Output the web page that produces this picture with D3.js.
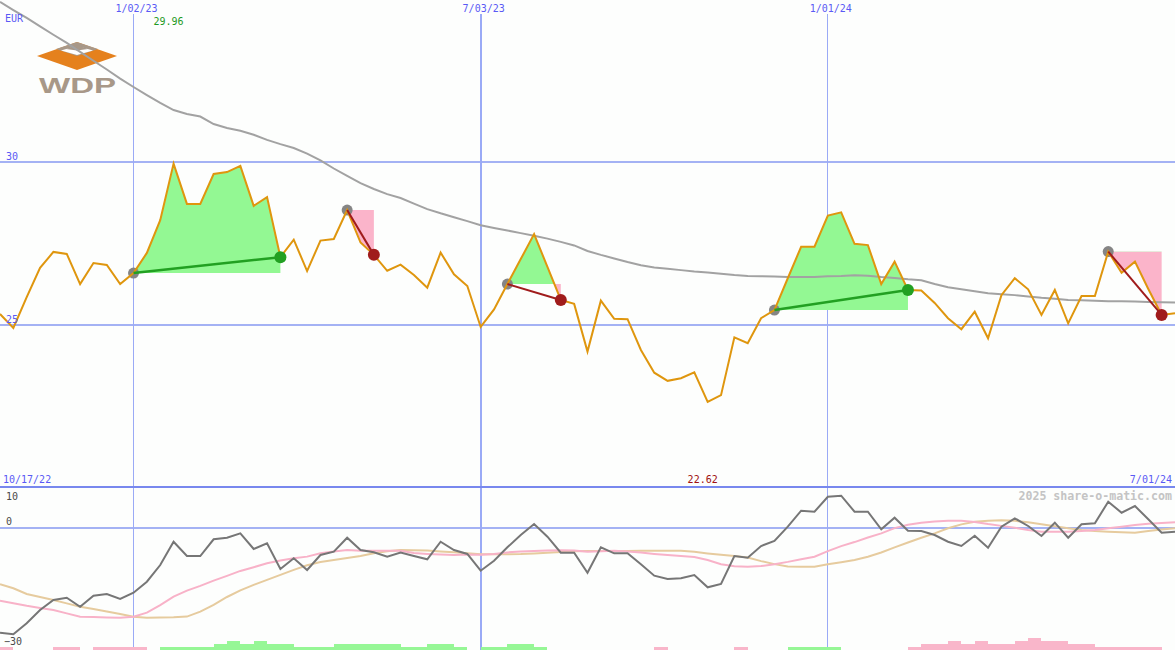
<!DOCTYPE html>
<html><head><meta charset="utf-8">
<script src="https://cdn.jsdelivr.net/npm/d3@7"></script>
<style>html,body{margin:0;padding:0;background:#fdfefd;} svg{display:block;}</style>
</head><body><svg id="c" width="1175" height="650"></svg>
<script>
// ---------- data (weekly, first point 2022-10-24) ----------
const startDate = "2022-10-24";
const close = [25.33,24.90,25.85,26.75,27.24,27.18,26.25,26.90,26.84,26.25,
  26.59,27.21,28.22,29.96,28.72,28.72,29.64,29.70,29.89,28.66,
  28.93,27.08,27.62,26.65,27.59,27.64,28.53,27.53,27.15,26.66,
  26.85,26.53,26.14,27.22,26.55,26.19,24.93,25.47,26.25,27.02,
  27.79,26.78,25.76,25.64,24.17,25.74,25.18,25.17,24.22,23.52,
  23.27,23.35,23.53,22.62,22.83,24.61,24.43,25.20,25.45,26.43,
  27.40,27.40,28.36,28.46,27.49,27.45,26.25,26.94,26.07,26.05,
  25.67,25.20,24.86,25.40,24.58,25.91,26.43,26.09,25.30,26.07,
  25.04,25.88,25.88,27.25,26.60,26.94,26.10,25.30,25.35];
const movingAvg = [34.94,34.69,34.45,34.19,33.93,33.68,33.40,33.13,32.86,32.58,
  32.32,32.07,31.83,31.61,31.49,31.41,31.18,31.06,30.97,30.85,
  30.69,30.56,30.44,30.27,30.06,29.81,29.58,29.36,29.18,29.02,
  28.90,28.73,28.56,28.43,28.31,28.19,28.06,27.98,27.90,27.82,
  27.74,27.65,27.55,27.44,27.27,27.15,27.04,26.93,26.83,26.76,
  26.72,26.68,26.64,26.61,26.57,26.53,26.50,26.49,26.48,26.47,
  26.47,26.47,26.49,26.50,26.52,26.51,26.47,26.44,26.40,26.37,
  26.25,26.15,26.09,26.03,25.97,25.94,25.91,25.87,25.83,25.80,
  25.76,25.75,25.74,25.72,25.72,25.71,25.70,25.69,25.68];
const momentum = [-25.98,-26.37,-23.65,-20.37,-17.90,-17.33,-19.56,-16.84,-16.42,-17.65,
  -16.10,-13.38,-9.26,-3.51,-7.04,-7.04,-2.91,-2.52,-1.43,-5.31,
  -3.90,-10.25,-7.60,-10.49,-6.79,-5.98,-2.52,-5.56,-6.12,-7.21,
  -6.17,-7.04,-7.85,-3.51,-5.56,-6.54,-10.67,-8.20,-4.89,-1.85,
  0.86,-2.27,-6.22,-6.22,-11.16,-4.89,-6.37,-6.37,-9.09,-11.90,
  -12.72,-12.54,-11.73,-14.77,-13.95,-7.04,-7.46,-4.57,-3.33,0.20,
  4.15,3.90,7.60,7.85,3.90,3.90,-0.44,2.42,-0.79,-0.86,
  -1.85,-3.51,-4.57,-2.02,-4.99,0.20,2.27,0.37,-2.10,1.19,
  -2.52,0.79,1.04,6.37,3.65,5.31,2.02,-1.28,-1.04];
const oscFast = [-18.07,-18.69,-19.31,-19.85,-20.37,-21.21,-22.02,-22.12,-22.20,-22.27,
  -22.02,-21.01,-19.14,-17.06,-15.58,-14.42,-13.11,-11.95,-10.72,-9.80,
  -8.81,-8.17,-7.58,-7.19,-6.35,-5.95,-5.56,-5.73,-5.73,-5.73,
  -5.75,-6.30,-6.52,-6.69,-6.79,-6.67,-6.72,-6.57,-6.15,-5.90,
  -5.78,-5.68,-5.60,-5.70,-5.98,-5.85,-5.75,-5.90,-6.20,-6.52,
  -6.79,-7.06,-7.28,-8.02,-9.06,-9.58,-9.68,-9.53,-9.06,-8.49,
  -7.83,-7.23,-5.83,-4.59,-3.60,-2.47,-1.46,-0.15,0.69,1.19,
  1.51,1.68,1.68,1.38,0.84,0.40,-0.07,-0.62,-1.04,-1.04,
  -1.04,-0.89,-0.62,-0.20,0.20,0.64,0.94,1.11,1.28];
const oscSlow = [-14.02,-15.01,-16.42,-17.16,-17.90,-18.74,-19.56,-20.10,-20.72,-21.36,
  -22.02,-22.27,-22.22,-22.17,-22.00,-20.77,-19.09,-17.16,-15.53,-14.17,
  -12.94,-11.70,-10.47,-9.33,-8.54,-8.00,-7.53,-7.04,-6.35,-5.88,
  -5.56,-5.63,-5.70,-5.90,-6.12,-6.37,-6.62,-6.62,-6.59,-6.57,
  -6.42,-6.22,-6.05,-5.88,-5.80,-5.80,-5.80,-5.78,-5.73,-5.73,
  -5.73,-5.75,-6.00,-6.40,-6.74,-7.06,-7.43,-8.30,-9.04,-9.65,
  -9.68,-9.68,-9.09,-8.57,-8.02,-7.21,-6.17,-4.91,-3.70,-2.54,
  -1.46,-0.20,0.77,1.43,1.68,1.78,1.65,1.28,0.79,0.30,
  -0.20,-0.59,-0.86,-1.04,-1.16,-1.28,-0.84,-0.47,-0.20];
const hist = [-1,0,0,0,-1,-1,0,-1,-1,-1,
  -1,0,1,1,1,1,2,3,2,3,
  2,2,1,1,1,2,2,2,2,2,
  1,1,2,2,1,0,1,1,2,2,
  1,0,0,0,0,0,0,0,0,-1,
  0,0,0,0,0,-1,0,0,0,1,
  1,1,1,0,0,0,0,0,-1,-2,
  -2,-3,-2,-3,-2,-2,-3,-4,-3,-3,
  -2,-2,-1,-1,-1,-1,-1,0,0];
// [start index, end index] of trade signals
const signals = [[10,21],[26,28],[38,42],[58,68],[83,87]];
const dateTicks = ["2023-01-02","2023-07-03","2024-01-01"];
const dateTickLabels = ["1/02/23","7/03/23","1/01/24"];
const priceTicks = [30,25];
const oscTicks = [10,0,-30];
const firstDateLabel = "10/17/22";
const lastDateLabel = "7/01/24";
const currencyLabel = "EUR";
const creditText = "2025 share-o-matic.com";

// ---------- setup ----------
const W = 1175, H = 650;
const parse = d3.utcParse("%Y-%m-%d");
const t0 = parse(startDate);
const weeks = close.map((_, i) => d3.utcDay.offset(t0, 7 * i));
const svg = d3.select("#c");
const mainBottom = 487;
const x = d3.scaleUtc().domain(d3.extent(weeks)).range([0, W]);
const y = d3.scaleLinear().domain([20, 35]).range([mainBottom, 0]);
const oy = d3.scaleLinear().domain([-30, 10]).range([649, 487]);
const hy = d3.scaleLinear().domain([0, 4]).range([0, 12.5]);
const mono = "DejaVu Sans Mono, monospace";
const gridC = "#a4b2f4";

svg.append("rect").attr("width", W).attr("height", H).attr("fill", "#fdfefd");

const defs = svg.append("defs");
defs.append("clipPath").attr("id", "mainClip").append("rect").attr("x", 0).attr("y", 0).attr("width", W).attr("height", mainBottom);
defs.append("clipPath").attr("id", "oscClip").append("rect").attr("x", 0).attr("y", mainBottom).attr("width", W).attr("height", H - mainBottom);

// ---------- grid ----------
const grid = svg.append("g");
grid.selectAll(".hg").data(priceTicks).join("line")
  .attr("x1", 0).attr("x2", W).attr("y1", d => Math.round(y(d))).attr("y2", d => Math.round(y(d)))
  .attr("stroke", gridC).attr("stroke-width", 2);
grid.append("line").attr("x1", 0).attr("x2", W).attr("y1", Math.round(oy(0))).attr("y2", Math.round(oy(0)))
  .attr("stroke", gridC).attr("stroke-width", 2);
grid.selectAll(".vg").data(dateTicks).join("line")
  .attr("x1", (d, i) => i === 1 ? Math.round(x(parse(d))) : Math.floor(x(parse(d))) + 0.5)
  .attr("x2", (d, i) => i === 1 ? Math.round(x(parse(d))) : Math.floor(x(parse(d))) + 0.5)
  .attr("y1", 14).attr("y2", H)
  .attr("stroke", "#9aaaf6").attr("stroke-width", (d, i) => i === 1 ? 2 : 1);
grid.append("line").attr("x1", 0).attr("x2", W).attr("y1", mainBottom).attr("y2", mainBottom)
  .attr("stroke", "#7888ee").attr("stroke-width", 2);

// ---------- logo ----------
const logo = svg.append("g");
logo.append("polygon").attr("points", "37,56 77,42 117,56 77,70").attr("fill", "#e5811d");
logo.append("polygon").attr("points", "56,49 77,42 98,49 77,56").attr("fill", "#a89888");
logo.append("polygon").attr("points", "61,50.5 77,46 93,50.5 77,55").attr("fill", "#ffffff");
logo.append("polygon").attr("points", "66,49 77,45 88,49 77,50.5").attr("fill", "#a89888");
logo.append("text").attr("x", 39).attr("y", 93).text("WDP")
  .attr("font-family", "Liberation Sans, Arial, sans-serif").attr("font-weight", "bold")
  .attr("font-size", 22).attr("fill", "#a89888")
  .attr("textLength", 77).attr("lengthAdjust", "spacingAndGlyphs");

// ---------- signal fills ----------
const fills = svg.append("g").attr("clip-path", "url(#mainClip)");
signals.forEach(([s, e], i) => {
  const base = close[s];
  const idx = d3.range(s, e + 1);
  const area = d3.area().x(k => x(weeks[k])).y0(y(base)).y1(k => y(close[k]));
  const upId = "up" + i, dnId = "dn" + i;
  defs.append("clipPath").attr("id", upId).append("rect")
    .attr("x", 0).attr("y", 0).attr("width", W).attr("height", y(base));
  defs.append("clipPath").attr("id", dnId).append("rect")
    .attr("x", 0).attr("y", y(base)).attr("width", W).attr("height", mainBottom - y(base));
  fills.append("path").attr("d", area(idx)).attr("fill", "#93f893").attr("clip-path", `url(#${upId})`);
  fills.append("path").attr("d", area(idx)).attr("fill", "#fbb4ca").attr("clip-path", `url(#${dnId})`);
});

// ---------- moving average & price ----------
const main = svg.append("g").attr("clip-path", "url(#mainClip)");
main.append("path").datum(movingAvg)
  .attr("d", d3.line().x((d, i) => x(weeks[i])).y(d => y(d)))
  .attr("fill", "none").attr("stroke", "#a2a2a2").attr("stroke-width", 2);

signals.forEach(([s, e]) => {
  main.append("circle").attr("cx", x(weeks[s])).attr("cy", y(close[s])).attr("r", 5.5).attr("fill", "#858585");
});
main.append("path").datum(close)
  .attr("d", d3.line().x((d, i) => x(weeks[i])).y(d => y(d)))
  .attr("fill", "none").attr("stroke", "#df960e").attr("stroke-width", 2);
signals.forEach(([s, e]) => {
  const up = close[e] > close[s];
  const c = up ? "#22a022" : "#a01c1c";
  main.append("line").attr("x1", x(weeks[s])).attr("y1", y(close[s]))
    .attr("x2", x(weeks[e])).attr("y2", y(close[e]))
    .attr("stroke", c).attr("stroke-width", up ? 2.5 : 2);
  main.append("circle").attr("cx", x(weeks[e])).attr("cy", y(close[e])).attr("r", 6).attr("fill", c);
});

// ---------- oscillator panel ----------
const osc = svg.append("g").attr("clip-path", "url(#oscClip)");
osc.selectAll("rect.h").data(hist.map((v, i) => ({ v, i })).filter(d => d.v !== 0 && d.i < weeks.length - 1)).join("rect")
  .attr("x", d => x(weeks[d.i])).attr("width", d => x(weeks[d.i + 1]) - x(weeks[d.i]))
  .attr("y", d => H - hy(Math.abs(d.v))).attr("height", d => hy(Math.abs(d.v)))
  .attr("fill", d => d.v > 0 ? "#96f796" : "#f9b6ca").attr("shape-rendering", "crispEdges");
const oline = d3.line().x((d, i) => x(weeks[i])).y(d => oy(d));
osc.append("path").datum(oscSlow).attr("d", oline).attr("fill", "none").attr("stroke", "#e6cb9e").attr("stroke-width", 2);
osc.append("path").datum(oscFast).attr("d", oline).attr("fill", "none").attr("stroke", "#f8b2c8").attr("stroke-width", 2);
osc.append("path").datum(momentum).attr("d", oline).attr("fill", "none").attr("stroke", "#767676").attr("stroke-width", 2);

// ---------- text ----------
const txt = svg.append("g").attr("font-family", mono).attr("font-size", 10);
txt.append("text").attr("x", 5).attr("y", 22).attr("fill", "#5a5af5").text(currencyLabel);
txt.selectAll(".dl").data(dateTicks).join("text")
  .attr("x", d => x(parse(d)) + 3).attr("y", 12).attr("text-anchor", "middle")
  .attr("fill", "#5a5af5").text((d, i) => dateTickLabels[i]);
txt.selectAll(".pl").data(priceTicks).join("text")
  .attr("x", 6).attr("y", d => y(d) - 2).attr("fill", "#5a5af5").text(d => d);
txt.append("text").attr("x", 3).attr("y", 483).attr("fill", "#5a5af5").text(firstDateLabel);
txt.append("text").attr("x", 1172).attr("y", 483).attr("text-anchor", "end").attr("fill", "#5a5af5").text(lastDateLabel);
const maxI = d3.maxIndex(close), minI = d3.minIndex(close);
txt.append("text").attr("x", x(weeks[maxI]) - 5).attr("y", 25).attr("text-anchor", "middle")
  .attr("fill", "#1f9a1f").text(close[maxI].toFixed(2));
txt.append("text").attr("x", x(weeks[minI]) - 5).attr("y", 483).attr("text-anchor", "middle")
  .attr("fill", "#a01010").text(close[minI].toFixed(2));
txt.selectAll(".ol").data(oscTicks).join("text")
  .attr("x", d => d < 0 ? 4 : 6)
  .attr("y", d => d === 10 ? oy(d) + 13 : (d === 0 ? oy(d) - 3 : oy(d) - 4))
  .attr("fill", "#4a4a4a").text(d => d < 0 ? "\u2212" + Math.abs(d) : d);
svg.append("text").attr("x", 1172).attr("y", 500).attr("text-anchor", "end")
  .attr("font-family", mono).attr("font-weight", "bold").attr("font-size", 11.6)
  .attr("fill", "#c4c4c4").text(creditText);
</script></body></html>
